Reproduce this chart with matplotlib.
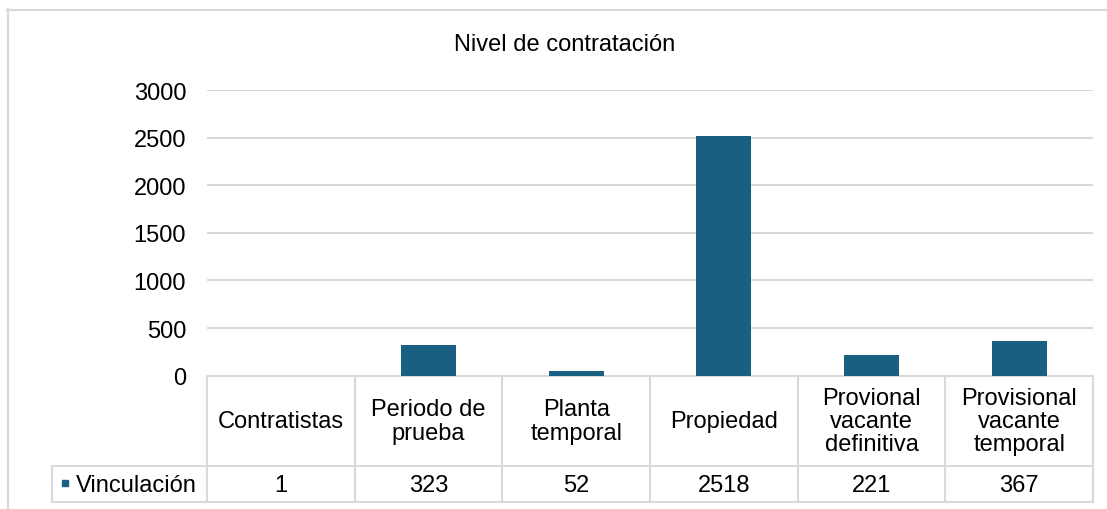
import matplotlib
matplotlib.use("Agg")
import matplotlib.pyplot as plt
from matplotlib.transforms import blended_transform_factory

categories = ["Contratistas", "Periodo de\nprueba", "Planta\ntemporal", "Propiedad",
              "Provional\nvacante\ndefinitiva", "Provisional\nvacante\ntemporal"]
values = [1, 323, 52, 2518, 221, 367]
series_name = "Vinculación"
title = "Nivel de contratación"
yticks = [0, 500, 1000, 1500, 2000, 2500, 3000]

W, H = 1107, 510
BAR = "#195F82"
GRID = "#D9D9D9"
FS = 17
plt.rcParams['font.family'] = ['Liberation Sans', 'DejaVu Sans']

fig = plt.figure(figsize=(W / 100, H / 100), dpi=100)

# overlay in pixel coordinates
ov = fig.add_axes([0, 0, 1, 1])
ov.set_xlim(0, W)
ov.set_ylim(H, 0)
ov.axis("off")

# main plot area
x0, x1 = 207, 1093
ytop, ybot = 91, 376.7
ax = fig.add_axes([x0 / W, 1 - ybot / H, (x1 - x0) / W, (ybot - ytop) / H])
n = len(categories)
xs = list(range(n))
ax.bar(xs, values, width=0.372, color=BAR, zorder=3)
ax.set_xlim(-0.5, n - 0.5)
ax.set_ylim(0, 3000)
ax.set_yticks(yticks)
ax.grid(axis="y", color=GRID, lw=1.5, zorder=0)
ax.set_xticks([])
ax.tick_params(axis="y", length=0, pad=15, labelsize=FS)
for s in ax.spines.values():
    s.set_visible(False)
for lab in ax.get_yticklabels():
    lab.set_color("#000000")

# chart border (top and left)
ov.plot([7, W], [10.5, 10.5], color=GRID, lw=1.5, clip_on=False)
ov.plot([7.5, 7.5], [10, H], color=GRID, lw=1.5, clip_on=False)

# title
ov.text(565, 45, title, ha="center", va="center", fontsize=FS, color="#000000")

# data table
tr = blended_transform_factory(ax.transData, ov.transData)
r0, r1, r2 = 377, 467, 503
ov.plot([x0, x1], [r0, r0], color=GRID, lw=1.5)
ov.plot([52, x1], [r1, r1], color=GRID, lw=1.5)
ov.plot([52, x1], [r2, r2], color=GRID, lw=1.5)
ov.plot([52, 52], [r1, r2], color=GRID, lw=1.5)
for i in range(n + 1):
    ax.plot([i - 0.5, i - 0.5], [r0, r2], color=GRID, lw=1.5, transform=tr, clip_on=False)
for i, (c, v) in enumerate(zip(categories, values)):
    ax.text(i, (r0 + r1) / 2, c, transform=tr, ha="center", va="center",
            fontsize=FS, linespacing=1.08, color="#000000", clip_on=False)
    ax.text(i, (r1 + r2) / 2 + 1, str(v), transform=tr, ha="center", va="center",
            fontsize=FS, color="#000000", clip_on=False)

# legend key
ov.add_patch(plt.Rectangle((62, 481), 6, 6, color=BAR))
ov.text(76, (r1 + r2) / 2 + 1, series_name, ha="left", va="center",
        fontsize=FS, color="#000000")

fig.savefig("out.png", dpi=100)
